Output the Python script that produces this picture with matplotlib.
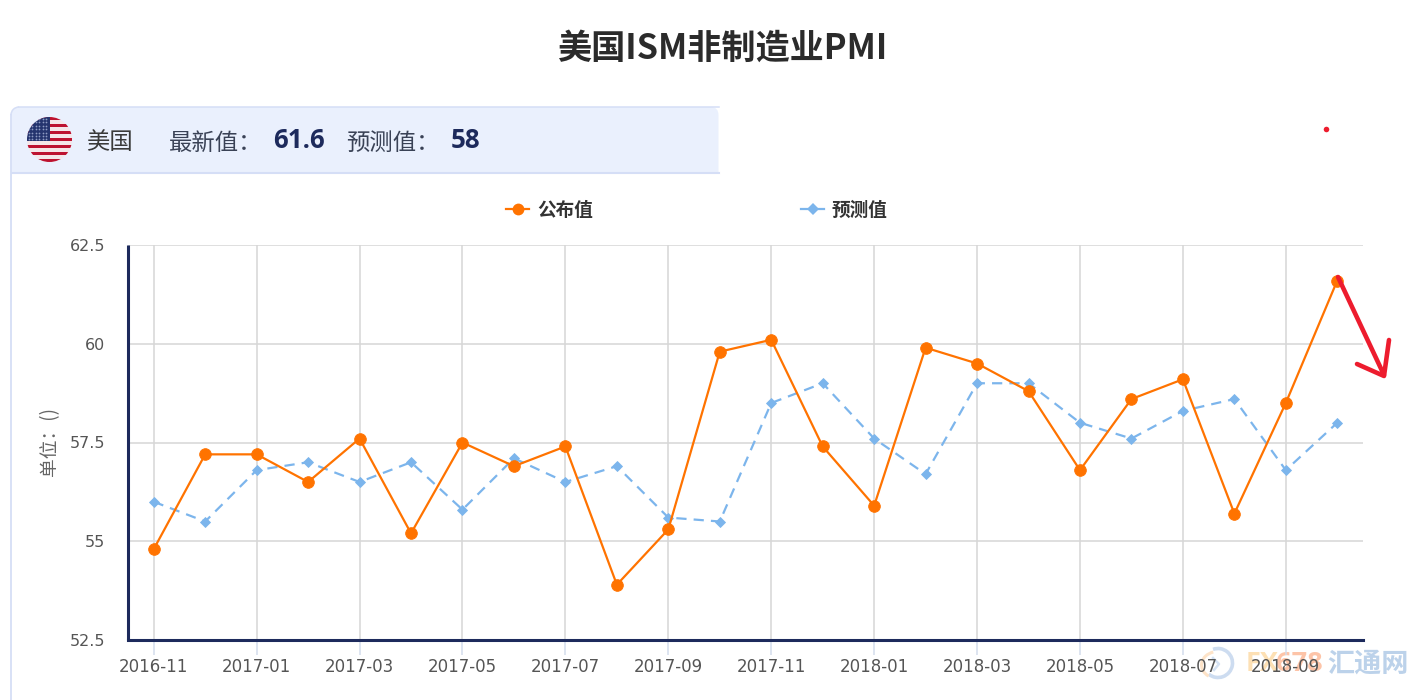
import numpy as np
import matplotlib
matplotlib.use('Agg')
import matplotlib.pyplot as plt
from matplotlib.patches import Circle, FancyBboxPatch, Rectangle, Arc
from matplotlib.lines import Line2D

plt.rcParams['font.family'] = ['Noto Sans CJK SC', 'DejaVu Sans']

months = ['2016-11','2016-12','2017-01','2017-02','2017-03','2017-04','2017-05','2017-06',
          '2017-07','2017-08','2017-09','2017-10','2017-11','2017-12','2018-01','2018-02',
          '2018-03','2018-04','2018-05','2018-06','2018-07','2018-08','2018-09','2018-10']
published = [54.8,57.2,57.2,56.5,57.6,55.2,57.5,56.9,57.4,53.9,55.3,59.8,
             60.1,57.4,55.9,59.9,59.5,58.8,56.8,58.6,59.1,55.7,58.5,61.6]
forecast = [56.0,55.5,56.8,57.0,56.5,57.0,55.8,57.1,56.5,56.9,55.6,55.5,
            58.5,59.0,57.6,56.7,59.0,59.0,58.0,57.6,58.3,58.6,56.8,58.0]
y_ticks = [52.5, 55, 57.5, 60, 62.5]
y_labels = ['52.5', '55', '57.5', '60', '62.5']

W, H = 1426, 700
ORANGE = '#ff7300'
BLUE = '#7cb5ec'
NAVY = '#1d2a5c'
GRID = '#d6d6d6'

fig = plt.figure(figsize=(W/100, H/100), dpi=100, facecolor='white')

# overlay in pixel coordinates, for the page furniture
bg = fig.add_axes([0, 0, 1, 1], zorder=0)
bg.set_xlim(0, W); bg.set_ylim(H, 0); bg.axis('off')

bg.text(722.5, 48, '美国ISM非制造业PMI', ha='center', va='center', fontsize=24.6,
        fontweight='bold', color='#2b2b2b')

# panel
bg.add_patch(FancyBboxPatch((11.5, 107), 707, 200, boxstyle='round,pad=0,rounding_size=8',
                            fc='#eaf0fd', ec='none', zorder=1))
bg.add_patch(Rectangle((12, 173), 720, 140, fc='white', ec='none', zorder=2))
bg.add_line(Line2D([19, 719], [107, 107], color='#d5def6', lw=1.1, zorder=3))
bg.add_line(Line2D([12, 719], [172.5, 172.5], color='#d5def6', lw=1.5, zorder=3))
bg.add_line(Line2D([11, 11], [115, 700], color='#d5def6', lw=1.3, zorder=3))
bg.add_patch(Arc((19, 115), 16, 16, theta1=180, theta2=270, color='#d5def6', lw=1.1, zorder=3))

# flag
cx, cy, r = 49.5, 139.5, 22.5
clip = Circle((cx, cy), r, transform=bg.transData)
bg.add_patch(Circle((cx, cy), r, fc='#f4e6e8', ec='none', zorder=3))
sh = 2 * r / 13
for i in range(13):
    if i % 2 == 0:
        p = Rectangle((cx - r, cy - r + i * sh), 2 * r, sh, fc='#bd1230', ec='none', zorder=4)
        bg.add_patch(p); p.set_clip_path(clip)
p = Rectangle((cx - r, cy - r), r, 7 * sh, fc='#25356f', ec='none', zorder=5)
bg.add_patch(p); p.set_clip_path(clip)
sx, sy = np.meshgrid(np.arange(cx - r + 2, cx - 1, 3.4), np.arange(cy - r + 2, cy - r + 7 * sh - 1, 3.4))
stars = bg.scatter(sx.ravel(), sy.ravel(), s=1.6, c='#8f9cc4', linewidths=0, zorder=6)
stars.set_clip_path(clip)

hdr = dict(va='center', zorder=6)
bg.text(86, 142.5, '美国', ha='left', fontsize=16.8, color='#3a3a3a', **hdr)
bg.text(169, 143, '最新值：', ha='left', fontsize=16.8, color='#3a4256', **hdr)
bg.text(273, 141, '61.6', ha='left', fontsize=18.6, fontweight='bold', color=NAVY,
        family=['Open Sans', 'DejaVu Sans'], **hdr)
bg.text(346, 143, '预测值：', ha='left', fontsize=16.8, color='#3a4256', **hdr)
bg.text(451, 141, '58', ha='left', fontsize=18.6, fontweight='bold', color=NAVY,
        family=['Open Sans', 'DejaVu Sans'], **hdr)

# watermark
bg.add_patch(Arc((1218, 663), 29, 29, theta1=-110, theta2=130, color='#cddcf0', lw=2.6, zorder=2))
bg.add_patch(Arc((1218, 665), 33, 27, theta1=130, theta2=250, color='#fde3c8', lw=2.2, zorder=2))
bg.add_line(Line2D([1213, 1219, 1214], [658, 664, 670], color='#d5e2f3', lw=1.8, zorder=2))
bg.text(1246, 664, 'FX', ha='left', va='center', fontsize=19.5, fontweight='bold', color='#fde0b4',
        family=['Open Sans', 'DejaVu Sans'], zorder=2)
bg.text(1276, 664, '678', ha='left', va='center', fontsize=19.5, fontweight='bold', color='#fdc4a8',
        family=['Open Sans', 'DejaVu Sans'], zorder=2)
bg.text(1368, 664, '汇通网', ha='center', va='center', fontsize=19.5, fontweight='bold',
        color='#bcd2ea', zorder=2)

# chart
ax = fig.add_axes([128/W, 1 - 640/H, (1363-128)/W, (640-245)/H], zorder=2)
ax.patch.set_alpha(0)
x = np.arange(len(months))
ax.set_xlim(-0.5, len(months) - 0.5)
ax.set_ylim(52.5, 62.5)
ax.set_xticks(x[::2])
ax.set_xticklabels(months[::2])
ax.set_yticks(y_ticks)
ax.set_yticklabels(y_labels)
ax.grid(True, color=GRID, lw=1.1, zorder=0)
ax.set_axisbelow(True)
for s in ('top', 'right'):
    ax.spines[s].set_visible(False)
for s in ('left', 'bottom'):
    ax.spines[s].set_color(NAVY)
    ax.spines[s].set_linewidth(2.2)
ax.spines['left'].set_capstyle('butt')
ax.tick_params(axis='x', length=11, width=1.1, color='#d3dcec', labelsize=12,
               labelcolor='#555555', pad=2)
ax.tick_params(axis='y', length=0, labelsize=11.5, labelcolor='#555555', pad=16.5)
for lab in ax.get_xticklabels() + ax.get_yticklabels():
    lab.set_family(['DejaVu Sans'])
ax.set_ylabel('单位：()', fontsize=13.5, color='#666666')
ax.yaxis.set_label_coords((60 - 128) / (1363 - 128), (640 - 441) / (640 - 245))

l2, = ax.plot(x, forecast, color=BLUE, lw=1.6, ls=(0, (4.6, 3.2)), marker='D', ms=5.6,
              mec=BLUE, mfc=BLUE, mew=0.6, zorder=3, clip_on=False)
l1, = ax.plot(x, published, color=ORANGE, lw=1.6, marker='o', ms=8.4,
              mec=ORANGE, mfc=ORANGE, mew=0.6, zorder=4, clip_on=False)

# legend in pixel positions
top = fig.add_axes([0, 0, 1, 1], zorder=3)
top.set_xlim(0, W); top.set_ylim(H, 0); top.axis('off')
top.add_line(Line2D([506, 529], [208.5, 208.5], color=ORANGE, lw=1.6))
top.add_line(Line2D([517.5], [208.5], marker='o', ms=8.5, mew=0, color=ORANGE))
top.add_line(Line2D([801, 824], [208.5, 208.5], color=BLUE, lw=1.6))
top.add_line(Line2D([812.5], [208.5], marker='D', ms=6.5, mew=0, color=BLUE))
top.text(537, 210.5, '公布值', va='center', fontsize=13.4, fontweight='bold', color='#333333')
top.text(832, 210.5, '预测值', va='center', fontsize=13.4, fontweight='bold', color='#333333')

# hand-drawn red annotation
RED = '#ed1c2e'
top.add_line(Line2D([1338, 1384], [277, 375], color=RED, lw=3.3, solid_capstyle='round'))
top.add_line(Line2D([1357, 1384, 1389], [364, 376, 340], color=RED, lw=3.3,
                    solid_capstyle='round', solid_joinstyle='round'))
top.add_line(Line2D([1325.5], [129], marker='o', ms=4, mew=0, color=RED))

fig.savefig('out.png', dpi=100, facecolor='white')
